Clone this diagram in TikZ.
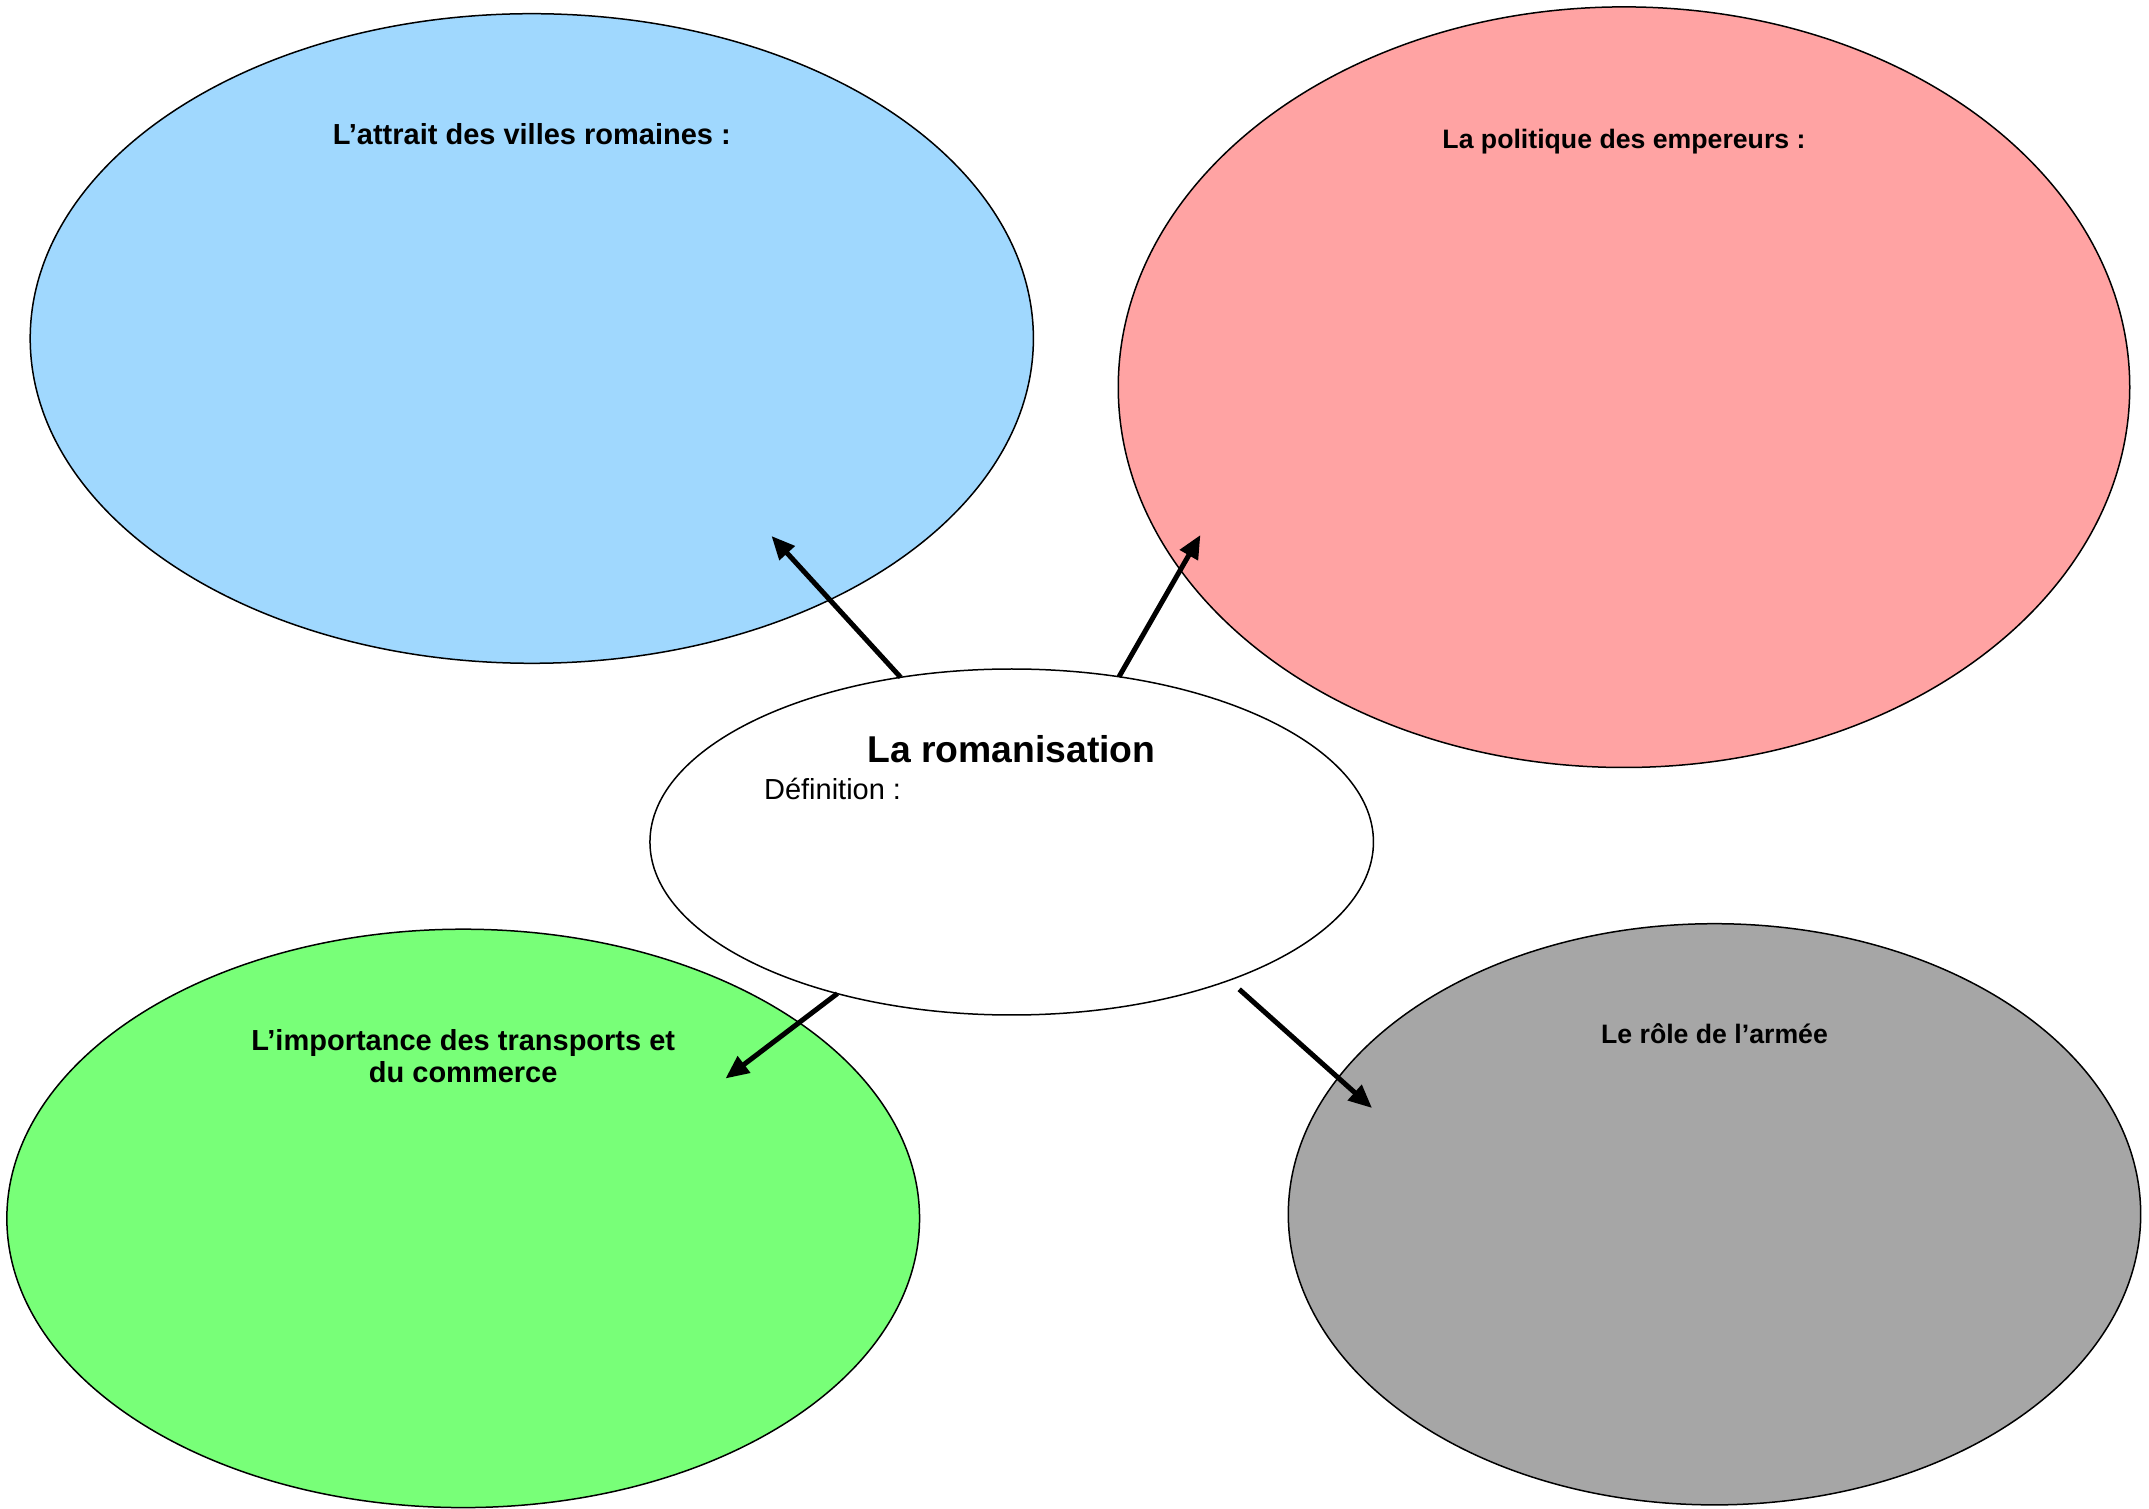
\documentclass[tikz,border=0pt]{standalone}
\usepackage{fontspec}
\setmainfont{Liberation Sans}
\usetikzlibrary{shapes.geometric,arrows.meta}
\definecolor{bluefill}{HTML}{A0D8FE}
\definecolor{redfill}{HTML}{FFA3A3}
\definecolor{greenfill}{HTML}{78FF78}
\definecolor{grayfill}{HTML}{A6A6A6}
\begin{document}
\begin{tikzpicture}[x=0.3pt,y=-0.3pt,
  bubble/.style={ellipse, draw=black, line width=0.45pt, inner sep=0pt, outer sep=0pt},
  lbl/.style={font=\bfseries\fontsize{8.7}{9.7}\selectfont, align=center, inner sep=0pt},
  lblsmall/.style={font=\bfseries\fontsize{8}{9.6}\selectfont, align=center, inner sep=0pt},
  link/.style={line width=1.5pt, -{Triangle[length=7pt,width=6pt]}}]
\useasboundingbox (0,0) rectangle (2149,1509);
% bubbles
\node[bubble, fill=bluefill, minimum width=300.96pt, minimum height=194.88pt] (blue) at (531.8,338.5) {};
\node[bubble, fill=redfill, minimum width=303.45pt, minimum height=228.18pt] (red) at (1624,387.2) {};
\node[bubble, fill=greenfill, minimum width=273.81pt, minimum height=173.52pt] (green) at (463.2,1218.4) {};
\node[bubble, fill=grayfill, minimum width=255.72pt, minimum height=174.36pt] (gray) at (1714.5,1214.3) {};
\node[bubble, fill=white, minimum width=217.05pt, minimum height=103.8pt] (center) at (1011.7,842) {};
% labels
\node[lbl] (tblue) at (531.8,134.3) {L’attrait des villes romaines :};
\node[lblsmall] (tred) at (1624,141.2) {La politique des empereurs :};
\node[lbl] (tgreen) at (463.2,1056) {L’importance des transports et\\du commerce};
\node[lblsmall] (tgray) at (1714.5,1033.4) {Le rôle de l’armée};
\node[font=\bfseries\fontsize{11.2}{13}\selectfont, inner sep=0pt] (title) at (1011.4,749.6) {La romanisation};
\node[font=\fontsize{8.7}{10}\selectfont, inner sep=0pt, anchor=west] (def) at (763.4,789.4) {Définition :};
% arrow targets
\coordinate (tipblue) at (771.5,536);
\coordinate (tipred) at (1200.4,535);
\coordinate (tipgreen) at (725.5,1078.5);
\coordinate (tipgray) at (1372,1108);
% connectors
\draw[link] (center.124.4) -- (tipblue);
\draw[link] (center.57.1) -- (tipred);
\draw[link] (center.221.5) -- (tipgreen);
\draw[link] ([shift={(13,8)}]center.327.2) -- (tipgray);
\end{tikzpicture}
\end{document}
